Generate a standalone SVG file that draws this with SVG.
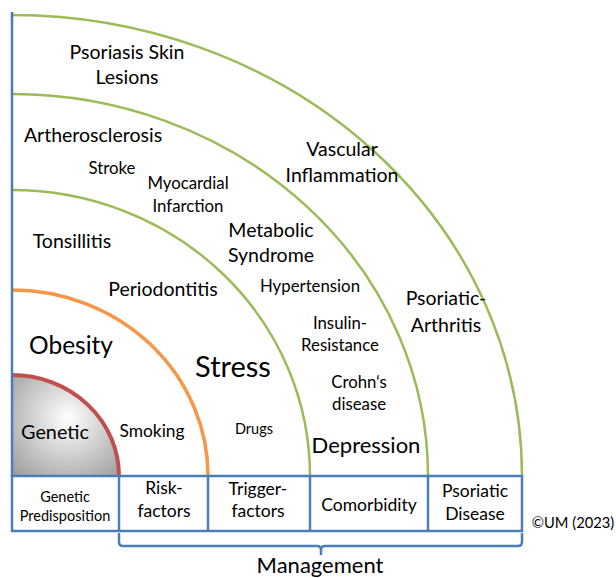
<svg xmlns="http://www.w3.org/2000/svg" width="616" height="578" viewBox="0 0 616 578">
<defs>
<radialGradient id="gen" gradientUnits="userSpaceOnUse" cx="68" cy="418" r="80">
<stop offset="0" stop-color="#ffffff"/>
<stop offset="1" stop-color="#9a9a9a"/>
</radialGradient>
</defs>
<style>
text{font-family:Lato,"Open Sans","Liberation Sans",sans-serif;fill:#000;text-anchor:middle}
.arc{fill:none}
.g{stroke:#9bbb59;stroke-width:2.5}
.blue{stroke:#4a7ebb;stroke-width:2.5;fill:none}
.l{font-size:19.5px}
.m{font-size:16.8px}
.b{font-size:17.5px}
</style>
<rect width="616" height="578" fill="#fff"/>
<g id="connectors">
<path class="arc g" d="M12 15 A510 461 0 0 1 522 476"/>
<path class="arc g" d="M12 94 A416 382 0 0 1 428 476"/>
<path class="arc g" d="M12 190 A298 286 0 0 1 310 476"/>
<path class="arc" stroke="#f79646" stroke-width="3.5" d="M12 290 A196 186 0 0 1 208 476"/>
<path d="M12 476 L12 375 A107 101 0 0 1 119 476 Z" fill="url(#gen)"/>
<path class="arc" stroke="#c0504d" stroke-width="4" d="M12 375 A107 101 0 0 1 119 476"/>
<line class="blue" x1="12" y1="12" x2="12" y2="476"/>
<path class="blue" d="M119 533 V542 Q119 546 123 546 H317 Q321 546 321 550 V555 M321 550 Q321 546 325 546 H518 Q522 546 522 542 V533"/>
</g>
<g id="ring-skin">
<text class="l" x="127" y="59">Psoriasis Skin</text>
<text class="l" x="127" y="84">Lesions</text>
</g>
<g id="ring-vascular">
<text class="l" x="93" y="142">Artherosclerosis</text>
<text class="m" x="112" y="174">Stroke</text>
<text class="m" x="188" y="189">Myocardial</text>
<text class="m" x="188" y="212">Infarction</text>
<text class="l" x="342" y="156">Vascular</text>
<text class="l" x="342" y="182">Inflammation</text>
</g>
<g id="ring-metabolic">
<text class="l" x="72" y="248">Tonsillitis</text>
<text class="l" x="271" y="237">Metabolic</text>
<text class="l" x="271" y="262">Syndrome</text>
<text class="l" x="163" y="296">Periodontitis</text>
<text class="m" x="310" y="292">Hypertension</text>
<text class="m" x="340" y="329">Insulin-</text>
<text class="m" x="340" y="351">Resistance</text>
<text class="m" x="359" y="388">Crohn‘s</text>
<text class="m" x="359" y="410">disease</text>
<text class="l" x="446" y="305">Psoriatic-</text>
<text class="l" x="446" y="332">Arthritis</text>
</g>
<g id="ring-risk">
<text x="71" y="354" font-size="24.5">Obesity</text>
<text x="233" y="377" font-size="29">Stress</text>
<text x="152" y="437" font-size="17.4">Smoking</text>
<text x="254" y="434" font-size="14.5">Drugs</text>
<text x="366" y="453" font-size="22">Depression</text>
</g>
<g id="genetic">
<text x="55" y="439" font-size="19.8">Genetic</text>
</g>
<g id="table">
<rect class="blue" x="12" y="476" width="510" height="55"/>
<line class="blue" x1="119" y1="476" x2="119" y2="531"/>
<line class="blue" x1="208" y1="476" x2="208" y2="531"/>
<line class="blue" x1="310" y1="476" x2="310" y2="531"/>
<line class="blue" x1="428" y1="476" x2="428" y2="531"/>
<text x="65" y="502" font-size="14.5">Genetic</text>
<text x="65" y="521" font-size="14.5">Predisposition</text>
<text class="b" x="164" y="494">Risk-</text>
<text class="b" x="164" y="517">factors</text>
<text class="b" x="258" y="495">Trigger-</text>
<text class="b" x="258" y="517">factors</text>
<text class="b" x="369" y="511">Comorbidity</text>
<text class="b" x="475" y="497">Psoriatic</text>
<text class="b" x="475" y="520">Disease</text>
</g>
<g id="management">
<text x="320" y="573" font-size="22">Management</text>
</g>
<text x="573" y="528" font-size="14.7">©UM (2023)</text>
</svg>
